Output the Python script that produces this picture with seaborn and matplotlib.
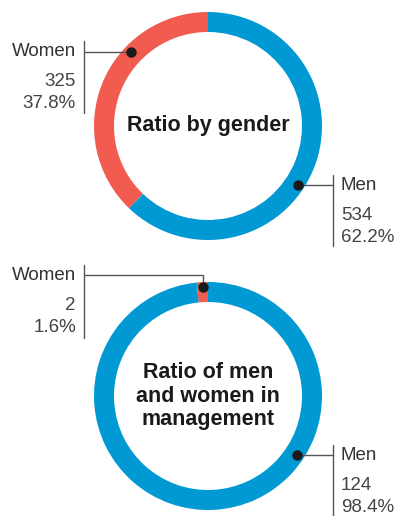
import matplotlib
matplotlib.use("Agg")
import matplotlib.pyplot as plt
import seaborn as sns

sns.set_theme(style="white")
plt.rcParams['font.family'] = ['Liberation Sans', 'DejaVu Sans']

# ---- data ----
categories = ["Women", "Men"]
gender_counts = [325, 534]
gender_pct = ["37.8%", "62.2%"]
mgmt_counts = [2, 124]
mgmt_pct = ["1.6%", "98.4%"]
titles = ["Ratio by gender", "Ratio of men\nand women in\nmanagement"]

colors = ["#F15B50", "#0099D3"]
W, H = 395, 516

fig = plt.figure(figsize=(W / 100, H / 100), dpi=100)
ax = fig.add_axes([0, 0, 1, 1])

def Y(y):
    return H - y

charts = [
    dict(counts=gender_counts, pct=gender_pct, title=titles[0], center=(208, 126),
         women=dict(dot=(131, 52), line_y=52, vline=(41, 113)),
         men=dict(dot=(298, 185), line_y=185, vline=(175, 246))),
    dict(counts=mgmt_counts, pct=mgmt_pct, title=titles[1], center=(208, 396),
         women=dict(dot=(203, 287), line_y=275, vline=(265, 338)),
         men=dict(dot=(297, 455), line_y=455, vline=(445, 516))),
]

line_col = "#555555"
for c in charts:
    cx, cy = c["center"]
    ax.pie(c["counts"], colors=colors, startangle=90, counterclock=True,
           center=(cx, Y(cy)), radius=114,
           wedgeprops=dict(width=20, linewidth=0))
    ax.text(cx, Y(cy), c["title"], ha="center", va="center", fontsize=15.5,
            fontweight="bold", color="#1a1a1a", linespacing=1.15)
    # women annotation (left)
    w = c["women"]
    dx, dy = w["dot"]
    ax.plot([84, dx, dx], [Y(w["line_y"]), Y(w["line_y"]), Y(dy)], color=line_col, lw=1, solid_capstyle="butt")
    ax.plot([84, 84], [Y(w["vline"][0]), Y(w["vline"][1])], color=line_col, lw=1)
    ax.plot([dx], [Y(dy)], "o", color="#1a1a1a", ms=6.5)
    ax.text(76, Y(w["line_y"]), categories[0], ha="right", va="center", fontsize=13.5, color="#333333")
    ax.text(76, Y(w["line_y"] + 30), str(c["counts"][0]), ha="right", va="center", fontsize=13.5, color="#444444")
    ax.text(76, Y(w["line_y"] + 52), c["pct"][0], ha="right", va="center", fontsize=13.5, color="#444444")
    # men annotation (right)
    m = c["men"]
    dx, dy = m["dot"]
    ax.plot([dx, 333], [Y(m["line_y"]), Y(m["line_y"])], color=line_col, lw=1)
    ax.plot([333, 333], [Y(m["vline"][0]), Y(m["vline"][1])], color=line_col, lw=1)
    ax.plot([dx], [Y(dy)], "o", color="#1a1a1a", ms=6.5)
    ax.text(341, Y(m["line_y"]), categories[1], ha="left", va="center", fontsize=13.5, color="#333333")
    ax.text(341, Y(m["line_y"] + 30), str(c["counts"][1]), ha="left", va="center", fontsize=13.5, color="#444444")
    ax.text(341, Y(m["line_y"] + 52), c["pct"][1], ha="left", va="center", fontsize=13.5, color="#444444")

ax.set_xlim(0, W)
ax.set_ylim(0, H)
ax.set_aspect("auto")
ax.axis("off")
fig.savefig("out.png", dpi=100)
